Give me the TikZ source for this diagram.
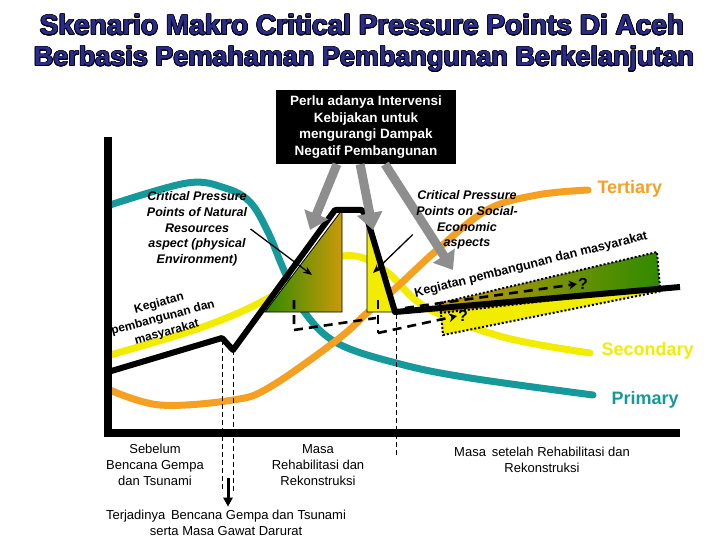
\documentclass[tikz,border=0pt]{standalone}
\usepackage{fontspec}
\setmainfont{Liberation Sans}
\usepackage{contour}
\contourlength{0.7pt}
\usetikzlibrary{arrows.meta, positioning, calc}
\definecolor{acehnavy}{HTML}{2B2B8C}
\definecolor{acehteal}{HTML}{16999A}
\definecolor{acehyellow}{HTML}{F2EC00}
\definecolor{acehorange}{HTML}{F5A020}
\definecolor{acehgreen}{HTML}{2F8A00}
\definecolor{acehochre}{HTML}{C99A0A}
\definecolor{acehgrey}{HTML}{8E8E8E}

\tikzset{
  curve/.style={line width=7pt, line cap=round},
  devline/.style={line width=6pt, line join=round},
  guide/.style={line width=0.8pt, dash pattern=on 5pt off 3pt},
  stagedash/.style={line width=2.6pt, dash pattern=on 9pt off 6pt},
  wedge/.style={line width=2pt, dotted},
  policyarrow/.style={acehgrey, line width=9pt, -{Triangle[width=25pt,length=17pt]}},
  pointer/.style={line width=1.3pt, -{Stealth[width=7pt,length=9pt]}},
  cpp/.style={font=\bfseries\itshape\fontsize{12.5}{15.7}\selectfont, align=center},
  phase/.style={font=\fontsize{13}{16}\selectfont, align=center},
  sector/.style={font=\bfseries\fontsize{18}{18}\selectfont, anchor=west},
  activity/.style={font=\bfseries\fontsize{12}{15}\selectfont, align=center},
  unknown/.style={font=\bfseries\fontsize{16}{16}\selectfont, inner sep=1pt},
}

\begin{document}
\begin{tikzpicture}[x=1pt, y=-1pt]
  \useasboundingbox[fill=white] (0,0) rectangle (720,540);

  % title
  \node[anchor=base, font=\bfseries\fontsize{28}{30}\selectfont] (title1) at (362,35)
    {\contour{black}{\textcolor{acehnavy}{Skenario Makro Critical Pressure Points Di Aceh}}};
  \node[anchor=base, font=\bfseries\fontsize{27}{30}\selectfont] (title2) at (364,66)
    {\contour{black}{\textcolor{acehnavy}{Berbasis Pemahaman Pembangunan Berkelanjutan}}};

  % sector curves
  \draw[curve, acehteal] plot[smooth, tension=0.6] coordinates
    {(110,205) (187,183) (225,188) (250,202) (268,232) (283,268) (303,310) (337,343) (400,364) (470,378) (593,395)};
  \draw[curve, acehyellow] plot[smooth, tension=0.6] coordinates
    {(110,355) (200,328) (265,300) (320,264) (355,256) (387,272) (427,308) (503,337) (590,353)};
  \draw[curve, acehorange] plot[smooth, tension=0.6] coordinates
    {(110,390) (160,405) (233,400) (270,387) (337,340) (367,313) (397,287) (437,250) (487,210) (537,195) (588,190)};

  \node[sector, text=acehorange] (tertiary) at (594,189) {Tertiary};
  \node[sector, text=acehyellow] (secondary) at (598,351) {Secondary};
  \node[sector, text=acehteal] (primary) at (608,400) {Primary};

  % critical pressure triangles
  \shade[left color=acehgreen, right color=acehochre] (265,312) -- (342,210) -- (342,312) -- cycle;
  \draw[line width=0.8pt] (265,312) -- (342,210) -- (342,312) -- cycle;
  \fill[acehyellow] (367,214) -- (395,312) -- (367,312) -- cycle;
  \draw[line width=0.8pt] (367,214) -- (395,312) -- (367,312) -- cycle;

  % scenario wedges after rehabilitation
  \fill[acehyellow] (440,313) -- (660,288) -- (662,291) -- (443,335) -- cycle;
  \shade[left color=acehochre, right color=acehgreen] (440,303) -- (657,252) -- (660,288) -- (440,313) -- cycle;
  \draw[wedge] (440,303) -- (657,252) -- (660,288);
  \draw[wedge] (440,303) -- (443,335) -- (662,291);
  \draw[wedge] (440,313) -- (660,288);

  % development path
  \draw[devline] (108,372) -- (222,338) -- (233,350) -- (335,210) -- (362,210)
    -- (367,218) -- (395,312) -- (680,287);

  % phase guides
  \draw[guide] (222,340) -- (222,492);
  \draw[guide] (233,350) -- (233,492);
  \draw[guide] (396,314) -- (396,456);

  % stage dashes
  \draw[stagedash] (294,300) -- (294,330) -- (376,318);
  \draw[stagedash] (378,300) -- (378,333);
  \node[unknown] (q2) at (463,316) {?};
  \node[unknown] (q1) at (583,284) {?};
  \draw[stagedash, -{Stealth[width=9pt,length=8pt]}] (378,333) -- (q2.west);
  \draw[stagedash, -{Stealth[width=9pt,length=8pt]}] (405,308) -- (q1.west);

  % activity labels
  \node[activity, rotate=15] (actBefore) at (163,318)
    {Kegiatan\\pembangunan dan\\masyarakat};
  \node[activity, rotate=14, font=\bfseries\fontsize{12.5}{13}\selectfont] (actAfter) at (531,265)
    {Kegiatan pembangunan dan masyarakat};

  % axes
  \draw[line width=8pt] (108,137) -- (108,433) -- (680,433);

  % policy box and arrows
  \node[fill=black, text=white, minimum width=180pt, minimum height=74pt, inner sep=0pt,
    align=center, font=\bfseries\fontsize{13.5}{16.5}\selectfont] (policy) at (366,127)
    {Perlu adanya Intervensi\\Kebijakan untuk\\mengurangi Dampak\\Negatif Pembangunan};
  \coordinate (natTop) at (310,230);
  \coordinate (solTop) at (373,230);
  \coordinate (socTop) at (453,270);
  \draw[policyarrow] (policy.232) -- (natTop);
  \draw[policyarrow] (policy.261) -- (solTop);
  \draw[policyarrow] (policy.297) -- (socTop);

  % critical pressure labels
  \node[cpp] (natural) at (197,229)
    {Critical Pressure\\Points of Natural\\Resources\\aspect (physical\\Environment)};
  \node[cpp] (social) at (467,220)
    {Critical Pressure\\Points on Social-\\Economic\\aspects};
  \coordinate (natTip) at (312,275);
  \coordinate (socTip) at (373,273);
  \draw[pointer] (natural.east) -- (natTip);
  \draw[pointer] (social.195) -- (socTip);

  % phases
  \node[phase] (before) at (155,465) {Sebelum\\Bencana Gempa\\dan Tsunami};
  \node[phase] (rehab) at (318,465) {Masa\\Rehabilitasi dan\\Rekonstruksi};
  \node[phase] (after) at (542,460) {Masa\, setelah Rehabilitasi dan\\Rekonstruksi};
  \node[phase] (disaster) at (226,523) {Terjadinya\, Bencana Gempa dan Tsunami\\serta Masa Gawat Darurat};
  \coordinate (quake) at (228,478);
  \draw[line width=3pt, -{Triangle[width=9pt,length=9pt]}] (quake) -- (disaster.north -| quake);
\end{tikzpicture}
\end{document}
